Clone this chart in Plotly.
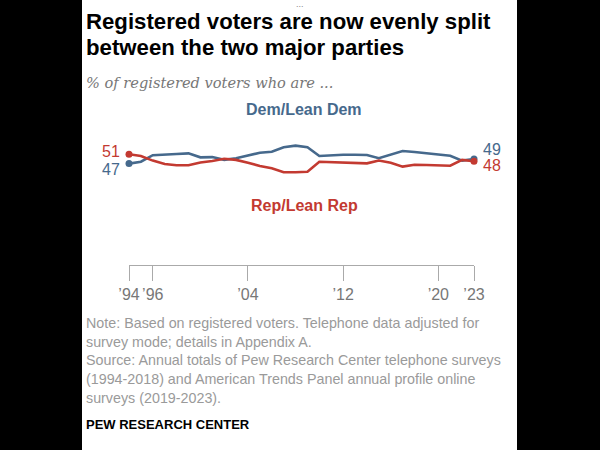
import plotly.graph_objects as go

years = list(range(1994, 2024))
dem = [47, 47.8, 50.6, 51.0, 51.1, 51.4, 49.7, 49.8, 48.6, 49.3,
       50.4, 51.7, 52.1, 54.0, 54.7, 54.0, 50.3, 50.6, 50.8, 50.8,
       50.7, 49.3, 50.7, 52.4, 52.0, 51.4, 50.9, 50.4, 48.3, 49]
rep = [51, 50.3, 48.3, 46.8, 46.3, 46.3, 47.5, 48.1, 49.1, 48.6,
       47.4, 46.0, 45.0, 43.3, 43.3, 43.5, 47.8, 47.6, 47.4, 47.2,
       47.1, 48.3, 47.4, 45.7, 46.5, 46.4, 46.1, 46.1, 48.6, 48]
tick_years = [1994, 1996, 2004, 2012, 2020, 2023]
tick_labels = ["’94", "’96", "’04", "’12", "’20", "’23"]

BLUE = "#46698C"
RED = "#C33A31"

# pixel layout helpers
L, R_, T, B = 129, 474, 100, 265
W, H = R_ - L, B - T
def px(p):
    return (p - L) / W
def py(p):
    return (B - p) / H

fig = go.Figure()
fig.add_trace(go.Scatter(x=years, y=dem, mode="lines", line=dict(color=BLUE, width=2.6),
                         hoverinfo="skip", cliponaxis=False))
fig.add_trace(go.Scatter(x=years, y=rep, mode="lines", line=dict(color=RED, width=2.6),
                         hoverinfo="skip", cliponaxis=False))
fig.add_trace(go.Scatter(x=[years[0], years[-1]], y=[dem[0], dem[-1]], mode="markers",
                         marker=dict(color=BLUE, size=7), cliponaxis=False, hoverinfo="skip"))
fig.add_trace(go.Scatter(x=[years[0], years[-1]], y=[rep[0], rep[-1]], mode="markers",
                         marker=dict(color=RED, size=7), cliponaxis=False, hoverinfo="skip"))

# white panel
fig.add_shape(type="rect", xref="paper", yref="paper", x0=px(82), x1=px(517), y0=py(452), y1=py(-2),
              fillcolor="white", line=dict(width=0), layer="below")

ann = []
numfont = "Liberation Sans"
ann.append(dict(x=years[0], y=rep[0], xref="x", yref="y", text=str(round(rep[0])), xanchor="right",
                yanchor="middle", xshift=-7, yshift=3, font=dict(color=RED, size=16, family=numfont), showarrow=False))
ann.append(dict(x=years[0], y=dem[0], xref="x", yref="y", text=str(round(dem[0])), xanchor="right",
                yanchor="middle", xshift=-7, yshift=-6, font=dict(color=BLUE, size=16, family=numfont), showarrow=False))
ann.append(dict(x=years[-1], y=dem[-1], xref="x", yref="y", text=str(round(dem[-1])), xanchor="left",
                yanchor="middle", xshift=7, yshift=9, font=dict(color=BLUE, size=16, family=numfont), showarrow=False))
ann.append(dict(x=years[-1], y=rep[-1], xref="x", yref="y", text=str(round(rep[-1])), xanchor="left",
                yanchor="middle", xshift=7, yshift=-4, font=dict(color=RED, size=16, family=numfont), showarrow=False))

def txt(x, y, text, size, color, family="Liberation Sans", xanchor="left", yanchor="middle"):
    ann.append(dict(x=px(x), y=py(y), xref="paper", yref="paper", text=text, xanchor=xanchor, yanchor=yanchor,
                    showarrow=False, align="left", font=dict(size=size, color=color, family=family)))

txt(300, 4, "...", 9, "#888", xanchor="center")
txt(84, 21, "<b>Registered voters are now evenly split</b>", 22.2, "#000")
txt(84, 48, "<b>between the two major parties</b>", 22.2, "#000")
txt(84, 82, "<i>% of registered voters who are ...</i>", 14.6, "#777", family="DejaVu Serif")
txt(304, 110, "<b>Dem/Lean Dem</b>", 16, BLUE, xanchor="center")
txt(304, 205, "<b>Rep/Lean Rep</b>", 16, RED, xanchor="center")
notes = ["Note: Based on registered voters. Telephone data adjusted for",
         "survey mode; details in Appendix A.",
         "Source: Annual totals of Pew Research Center telephone surveys",
         "(1994-2018) and American Trends Panel annual profile online",
         "surveys (2019-2023)."]
for i, line in enumerate(notes):
    txt(84, 323 + i * 18.7, line, 14.3, "#9a9a9a")
txt(84, 424, "<b>PEW RESEARCH CENTER</b>", 13, "#000")

ymin = 51 - (B - 154.3) / 2.33
ymax = 51 + (154.3 - T) / 2.33

fig.update_layout(
    width=600, height=450,
    margin=dict(l=L, r=600 - R_, t=T, b=450 - B, pad=0),
    paper_bgcolor="black", plot_bgcolor="rgba(0,0,0,0)",
    showlegend=False,
    annotations=ann,
    xaxis=dict(range=[1994, 2023], tickvals=tick_years, ticktext=tick_labels, showgrid=False, zeroline=False,
               showline=True, linecolor="#aaa", linewidth=1, ticks="outside", ticklen=15, tickcolor="#aaa",
               tickfont=dict(size=16, color="#777", family="Liberation Sans"), fixedrange=True),
    yaxis=dict(range=[ymin, ymax], visible=False, fixedrange=True),
)
fig.write_html("out.html", config={"displayModeBar": False},
               post_script="document.body.style.margin='0';document.body.style.overflow='hidden';")
